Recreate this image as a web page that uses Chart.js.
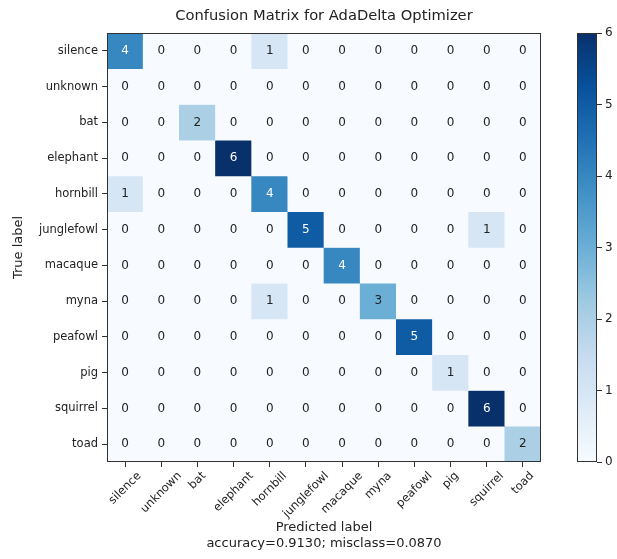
<!DOCTYPE html>
<html>
<head>
<meta charset="utf-8">
<script src="https://cdn.jsdelivr.net/npm/chart.js@4/dist/chart.umd.min.js"></script>
<style>
  html, body { margin: 0; padding: 0; background: #fff; }
  #wrap { position: relative; width: 617px; height: 559px; }
  #wrap canvas { position: absolute; top: 0; }
</style>
</head>
<body>
<div id="wrap">
  <canvas id="cm" width="617" height="559" style="left:0"></canvas>
  <canvas id="cb" width="57" height="559" style="left:560px"></canvas>
</div>
<script>
// Class names (true labels on rows, predicted labels on columns)
const classes = ['silence', 'unknown', 'bat', 'elephant', 'hornbill', 'junglefowl',
                 'macaque', 'myna', 'peafowl', 'pig', 'squirrel', 'toad'];

// One row of counts per true label
const rowSilence    = [4, 0, 0, 0, 1, 0, 0, 0, 0, 0, 0, 0];
const rowUnknown    = [0, 0, 0, 0, 0, 0, 0, 0, 0, 0, 0, 0];
const rowBat        = [0, 0, 2, 0, 0, 0, 0, 0, 0, 0, 0, 0];
const rowElephant   = [0, 0, 0, 6, 0, 0, 0, 0, 0, 0, 0, 0];
const rowHornbill   = [1, 0, 0, 0, 4, 0, 0, 0, 0, 0, 0, 0];
const rowJunglefowl = [0, 0, 0, 0, 0, 5, 0, 0, 0, 0, 1, 0];
const rowMacaque    = [0, 0, 0, 0, 0, 0, 4, 0, 0, 0, 0, 0];
const rowMyna       = [0, 0, 0, 0, 1, 0, 0, 3, 0, 0, 0, 0];
const rowPeafowl    = [0, 0, 0, 0, 0, 0, 0, 0, 5, 0, 0, 0];
const rowPig        = [0, 0, 0, 0, 0, 0, 0, 0, 0, 1, 0, 0];
const rowSquirrel   = [0, 0, 0, 0, 0, 0, 0, 0, 0, 0, 6, 0];
const rowToad       = [0, 0, 0, 0, 0, 0, 0, 0, 0, 0, 0, 2];

// Colour bar tick values
const colorbarTicks = [0, 1, 2, 3, 4, 5, 6];

const matrix = [rowSilence, rowUnknown, rowBat, rowElephant, rowHornbill, rowJunglefowl,
                rowMacaque, rowMyna, rowPeafowl, rowPig, rowSquirrel, rowToad];

const vmax = Math.max(...matrix.flat());
const total = matrix.flat().reduce((a, b) => a + b, 0);
const correct = matrix.reduce((s, row, i) => s + row[i], 0);
const accuracy = correct / total;
const misclass = 1 - accuracy;

// "Blues" sequential colour map
const bluesStops = ['#f7fbff', '#deebf7', '#c6dbef', '#9ecae1', '#6baed6',
                    '#4292c6', '#2171b5', '#08519c', '#08306b'];
function hexToRgb(h) {
  return [parseInt(h.slice(1, 3), 16), parseInt(h.slice(3, 5), 16), parseInt(h.slice(5, 7), 16)];
}
function blues(t) {
  t = Math.min(1, Math.max(0, t));
  const pos = t * (bluesStops.length - 1);
  const i = Math.min(bluesStops.length - 2, Math.floor(pos));
  const f = pos - i;
  const a = hexToRgb(bluesStops[i]), b = hexToRgb(bluesStops[i + 1]);
  const c = a.map((v, k) => Math.round(v + (b[k] - v) * f));
  return `rgb(${c[0]},${c[1]},${c[2]})`;
}

const FONT = "'DejaVu Sans', sans-serif";
const TEXT = '#222';
const AXIS = '#333';
const TICK_FONT = 11.5;

// Outline around the plotting area
const frame = {
  id: 'frame',
  afterDraw(chart) {
    const { ctx, chartArea: a } = chart;
    ctx.save();
    ctx.strokeStyle = AXIS;
    ctx.lineWidth = 1;
    ctx.strokeRect(Math.round(a.left) + 0.5, Math.round(a.top) + 0.5,
                   Math.round(a.right - a.left) - 1, Math.round(a.bottom - a.top) - 1);
    ctx.restore();
  }
};

// Count written in the centre of each cell
const cellText = {
  id: 'cellText',
  afterDatasetsDraw(chart) {
    const { ctx } = chart;
    const thresh = vmax / 2;
    ctx.save();
    ctx.font = `12px ${FONT}`;
    ctx.textAlign = 'center';
    ctx.textBaseline = 'middle';
    chart.data.datasets.forEach((ds, r) => {
      chart.getDatasetMeta(r).data.forEach((el, c) => {
        const v = matrix[r][c];
        ctx.fillStyle = v > thresh ? '#ffffff' : TEXT;
        ctx.fillText(String(v), el.x, (el.y + el.base) / 2);
      });
    });
    ctx.restore();
  }
};

// Predicted-label names, rotated 45° with their bounding box centred under each tick
const rotatedXLabels = {
  id: 'rotatedXLabels',
  afterDraw(chart) {
    const { ctx } = chart;
    const xs = chart.scales.x;
    const top = chart.chartArea.bottom + 8;
    ctx.save();
    ctx.font = `${TICK_FONT}px ${FONT}`;
    ctx.fillStyle = TEXT;
    ctx.textAlign = 'center';
    ctx.textBaseline = 'middle';
    xs.ticks.forEach((t, i) => {
      const label = xs.getLabelForValue(t.value);
      const x = xs.getPixelForTick(i);
      const w = ctx.measureText(label).width;
      const half = (w + TICK_FONT) * Math.SQRT1_2 / 2;
      ctx.save();
      ctx.translate(x, top + half);
      ctx.rotate(-Math.PI / 4);
      ctx.fillText(label, 0, 0);
      ctx.restore();
    });
    ctx.restore();
  }
};

// Each true-label row is one dataset of floating bars spanning [r, r+1]
const datasets = matrix.map((row, r) => ({
  label: classes[r],
  data: row.map(() => [r, r + 1]),
  backgroundColor: row.map(v => blues(v / vmax)),
  borderWidth: 0,
  barPercentage: 1,
  categoryPercentage: 1,
  grouped: false
}));

new Chart(document.getElementById('cm'), {
  type: 'bar',
  data: { labels: classes, datasets },
  options: {
    responsive: false,
    animation: false,
    layout: { autoPadding: false, padding: { left: 0, top: 0, right: 76, bottom: 0 } },
    plugins: {
      legend: { display: false },
      tooltip: { enabled: false },
      title: {
        display: true,
        text: 'Confusion Matrix for AdaDelta Optimizer',
        color: TEXT,
        fullSize: false,
        font: { family: FONT, size: 14.7, weight: 'normal', lineHeight: 1.2 },
        padding: { top: 7.5, bottom: 7.9 }
      }
    },
    scales: {
      x: {
        type: 'category',
        offset: true,
        grid: { display: true, offset: false, drawOnChartArea: false, drawTicks: true, tickLength: 5, color: AXIS },
        border: { display: false },
        ticks: { display: false, autoSkip: false },
        title: {
          display: true,
          text: ['Predicted label',
                 `accuracy=${accuracy.toFixed(4)}; misclass=${misclass.toFixed(4)}`],
          color: TEXT,
          font: { family: FONT, size: 13, lineHeight: 1.25 },
          padding: { top: 0, bottom: 7 }
        },
        afterFit(s) { s.height = 97; }
      },
      y: {
        type: 'linear',
        min: 0,
        max: classes.length,
        reverse: true,
        afterBuildTicks(s) { s.ticks = classes.map((_, i) => ({ value: i + 0.5 })); },
        grid: { display: true, drawOnChartArea: false, drawTicks: true, tickLength: 5, color: AXIS },
        border: { display: false },
        ticks: { autoSkip: false, color: TEXT, padding: 4,
                 font: { family: FONT, size: TICK_FONT },
                 callback: (v, i) => classes[i] },
        title: {
          display: true,
          text: 'True label',
          color: TEXT,
          font: { family: FONT, size: 13 },
          padding: { top: 11, bottom: 0 }
        },
        afterFit(s) { s.width = 107; }
      }
    }
  },
  plugins: [frame, cellText, rotatedXLabels]
});

// Colour bar: a single floating bar over [0, vmax] filled with the colour map
new Chart(document.getElementById('cb'), {
  type: 'bar',
  data: {
    labels: [''],
    datasets: [{
      data: [[0, vmax]],
      backgroundColor(ctx) {
        const a = ctx.chart.chartArea;
        if (!a) return bluesStops[0];
        const g = ctx.chart.ctx.createLinearGradient(0, a.bottom, 0, a.top);
        bluesStops.forEach((c, i) => g.addColorStop(i / (bluesStops.length - 1), c));
        return g;
      },
      borderWidth: 0,
      barPercentage: 1,
      categoryPercentage: 1
    }]
  },
  options: {
    responsive: false,
    animation: false,
    layout: { autoPadding: false, padding: { left: 17, top: 33, right: 0, bottom: 97 } },
    plugins: { legend: { display: false }, tooltip: { enabled: false } },
    scales: {
      x: { display: false },
      y: {
        position: 'right',
        min: 0,
        max: vmax,
        afterBuildTicks(s) { s.ticks = colorbarTicks.map(v => ({ value: v })); },
        grid: { display: true, drawOnChartArea: false, drawTicks: true, tickLength: 5, color: AXIS },
        border: { display: false },
        ticks: { color: TEXT, padding: 3, font: { family: FONT, size: 12 } },
        afterFit(s) { s.width = 20; }
      }
    }
  },
  plugins: [frame]
});
</script>
</body>
</html>
